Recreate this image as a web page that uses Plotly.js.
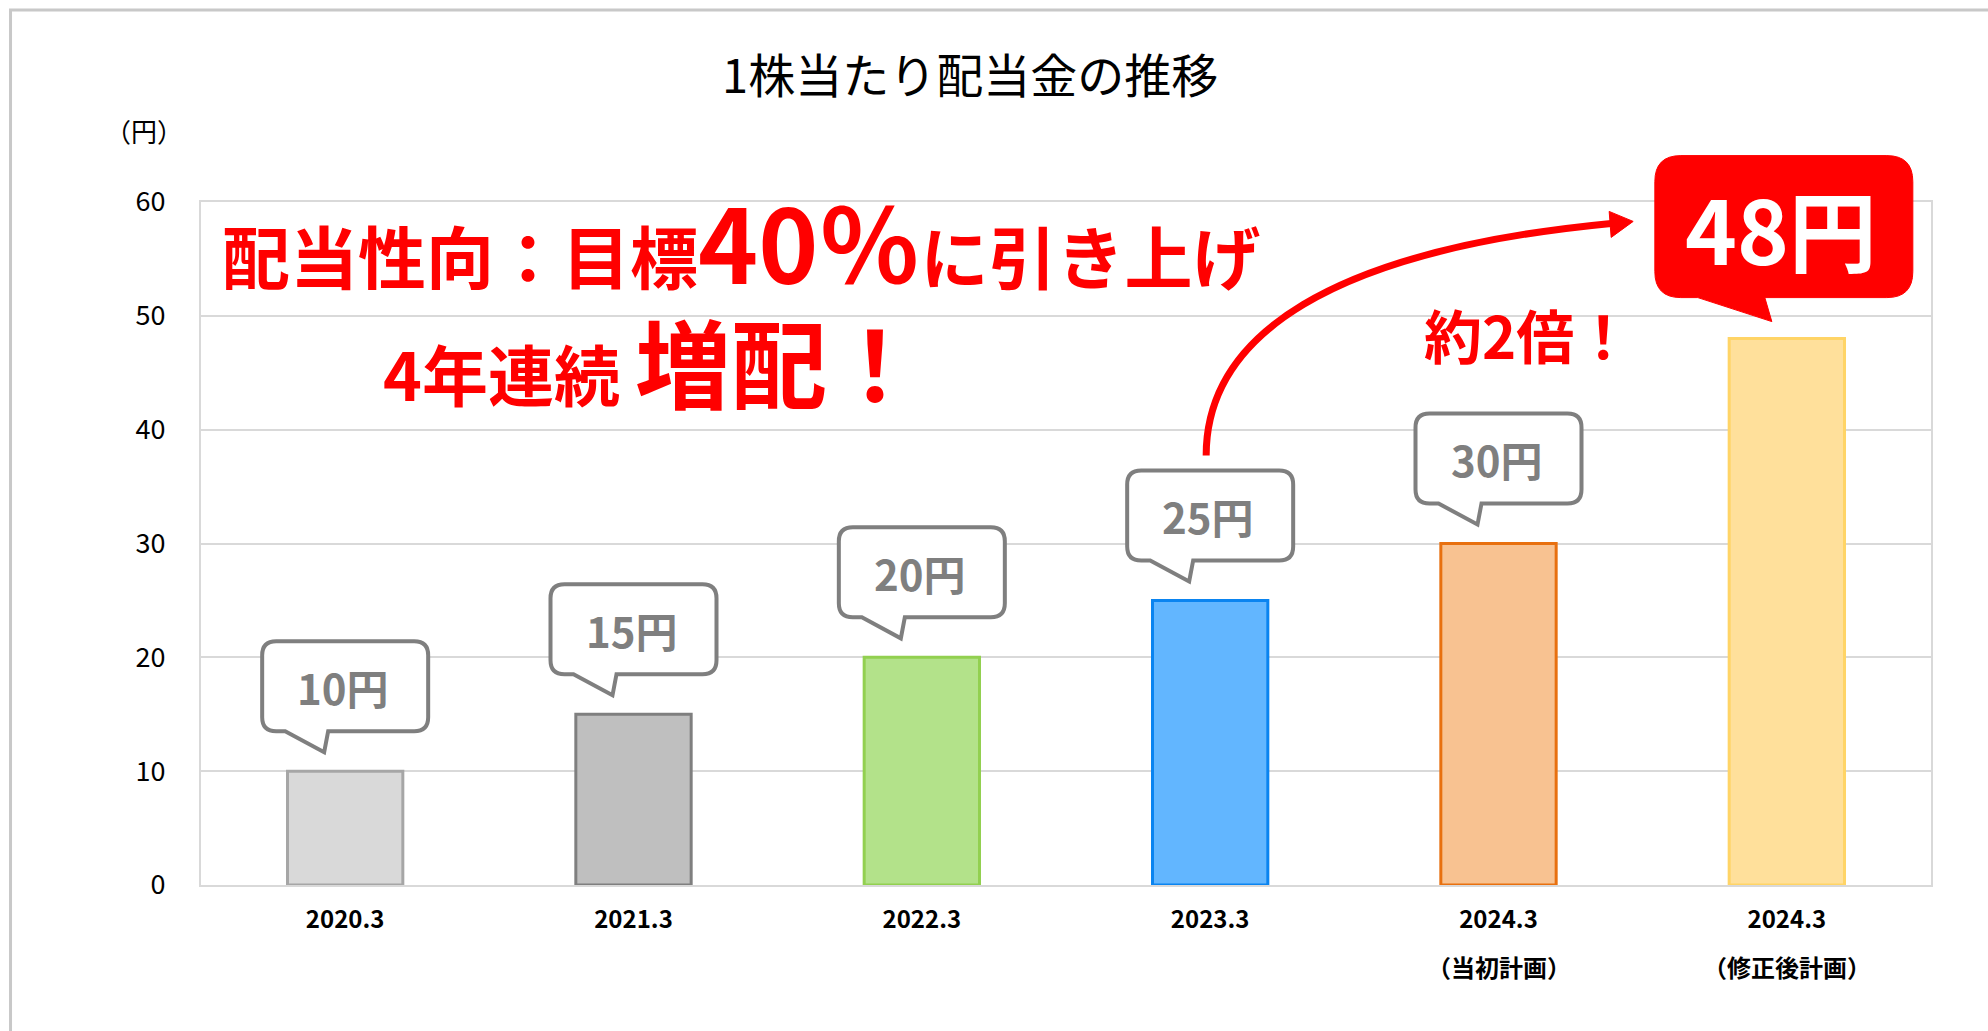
<!DOCTYPE html>
<html>
<head>
<meta charset="utf-8">
<script src="https://cdn.plot.ly/plotly-3.0.1.min.js"></script>
<style>html,body{margin:0;padding:0;background:#fff;}</style>
</head>
<body>
<div id="chart" style="width:1988px;height:1031px;"></div>
<script>
// --- data ---
const periods = ['2020.3', '2021.3', '2022.3', '2023.3', '2024.3', '2024.3'];
const notes = ['', '', '', '', '（当初計画）', '（修正後計画）'];
const dividends = [10, 15, 20, 25, 30, 48];
const fillColors = ['#d9d9d9', '#bfbfbf', '#b3e28a', '#62b6ff', '#f8c291', '#ffe09b'];
const edgeColors = ['#a6a6a6', '#7f7f7f', '#92d050', '#0a84f0', '#e8700f', '#ffd466'];
const yTicks = [0, 10, 20, 30, 40, 50, 60];

const Y_MAX = 60;
const FONT = '"Noto Sans CJK JP", "Noto Sans", sans-serif';
const RED = '#ff0000';
const idx = periods.map((_, i) => i);

// speech bubble path, pixel offsets from the anchor (y up)
function bubblePath(w, h, b, r, dx, tailL, tailR, tipX, tipY) {
    const L = dx - w / 2, R = dx + w / 2, T = b + h;
    return `M${L + r},${b} L${tailL},${b} L${tipX},${tipY} L${tailR},${b} L${R - r},${b} ` +
        `Q${R},${b} ${R},${b + r} L${R},${T - r} Q${R},${T} ${R - r},${T} ` +
        `L${L + r},${T} Q${L},${T} ${L},${T - r} L${L},${b + r} Q${L},${b} ${L + r},${b} Z`;
}

const shapes = [];
const annotations = [];

dividends.forEach((v, i) => {
    const last = i === dividends.length - 1;
    shapes.push({
        type: 'path', xref: 'x', yref: 'paper',
        xsizemode: 'pixel', ysizemode: 'pixel',
        xanchor: i, yanchor: v / Y_MAX,
        path: last ? bubblePath(258, 142, 41, 26, -3, -89, -22, -15, 17)
                   : bubblePath(166, 90, 40, 14, 0, -60, -17, -21, 19),
        fillcolor: last ? RED : '#ffffff',
        line: { color: last ? RED : '#7f7f7f', width: last ? 1 : 4 }
    });
    annotations.push({
        x: i, y: v, xref: 'x', yref: 'y', showarrow: false,
        yshift: last ? 112 : 85, xshift: last ? -6 : -2,
        text: v + '円',
        font: { family: FONT, size: last ? 88 : 42, color: last ? '#ffffff' : '#7f7f7f', weight: 'bold' }
    });
});

// second line of the category labels
notes.forEach((n, i) => {
    if (!n) return;
    annotations.push({
        x: i, y: -0.119, xref: 'x', yref: 'paper', showarrow: false, yanchor: 'middle',
        text: n, font: { family: FONT, size: 24, color: '#000', weight: 'bold' }
    });
});

// curved arrow from the 2023.3 bar to the revised plan
shapes.push({
    type: 'path', xref: 'x', yref: 'paper', xsizemode: 'pixel', ysizemode: 'pixel',
    xanchor: 3, yanchor: dividends[3] / Y_MAX,
    path: 'M-4,145 C-4,265 120,350 401,377',
    fillcolor: 'rgba(0,0,0,0)', line: { color: RED, width: 7 }
});
shapes.push({
    type: 'path', xref: 'x', yref: 'paper', xsizemode: 'pixel', ysizemode: 'pixel',
    xanchor: 3, yanchor: dividends[3] / Y_MAX,
    path: 'M399,389 L423,379 L401,363 Z',
    fillcolor: RED, line: { color: RED, width: 1 }
});

// outer frame
shapes.push({
    type: 'rect', xref: 'paper', yref: 'paper', layer: 'below',
    x0: -0.1101, x1: 1.2, y0: -0.4, y1: 1.2811,
    line: { color: '#c8c8c8', width: 3 }, fillcolor: 'rgba(0,0,0,0)'
});

annotations.push(
    {
        xref: 'paper', yref: 'paper', x: 0.011, y: 0.945, xanchor: 'left', yanchor: 'middle', showarrow: false,
        text: '配当性向：目標<span style="font-size:102px">40％</span>に引き上げ',
        font: { family: FONT, size: 68, color: RED, weight: 'bold' }
    },
    {
        xref: 'paper', yref: 'paper', x: 0.104, y: 0.77, xanchor: 'left', yanchor: 'middle', showarrow: false,
        text: '4年連続 <span style="font-size:96px">増配！</span>',
        font: { family: FONT, size: 66, color: RED, weight: 'bold' }
    },
    {
        xref: 'paper', yref: 'paper', x: 0.767, y: 0.807, xanchor: 'center', yanchor: 'middle', showarrow: false,
        text: '約2倍！',
        font: { family: FONT, size: 58, color: RED, weight: 'bold' }
    },
    {
        xref: 'paper', yref: 'paper', x: -0.033, y: 1.104, xanchor: 'center', yanchor: 'middle', showarrow: false,
        text: '（円）',
        font: { family: FONT, size: 26, color: '#000' }
    }
);

const trace = {
    type: 'bar',
    x: idx,
    y: dividends,
    marker: { color: fillColors, line: { color: edgeColors, width: 3 } },
    hoverinfo: 'skip'
};

const layout = {
    width: 1988,
    height: 1031,
    margin: { l: 201, r: 57, t: 202, b: 146 },
    paper_bgcolor: '#ffffff',
    plot_bgcolor: '#ffffff',
    showlegend: false,
    bargap: 0.6,
    title: {
        text: '1株当たり配当金の推移',
        font: { family: FONT, size: 47, color: '#000' },
        x: 0.488, xanchor: 'center', y: 0.926, yanchor: 'middle'
    },
    xaxis: {
        range: [-0.5, 5.5],
        tickvals: idx,
        ticktext: periods,
        tickfont: { family: FONT, size: 24, color: '#000', weight: 'bold' },
        ticks: '', showgrid: false, zeroline: false,
        showline: true, linecolor: '#d9d9d9', linewidth: 2, mirror: true,
        ticklabelstandoff: 12
    },
    yaxis: {
        range: [0, Y_MAX],
        tickvals: yTicks,
        tickfont: { family: FONT, size: 27, color: '#000' },
        ticks: '', gridcolor: '#d9d9d9', gridwidth: 2, zeroline: false,
        showline: true, linecolor: '#d9d9d9', linewidth: 2, mirror: true,
        ticklabelstandoff: 28
    },
    shapes: shapes,
    annotations: annotations
};

Plotly.newPlot('chart', [trace], layout, { displayModeBar: false, staticPlot: true });
</script>
</body>
</html>
